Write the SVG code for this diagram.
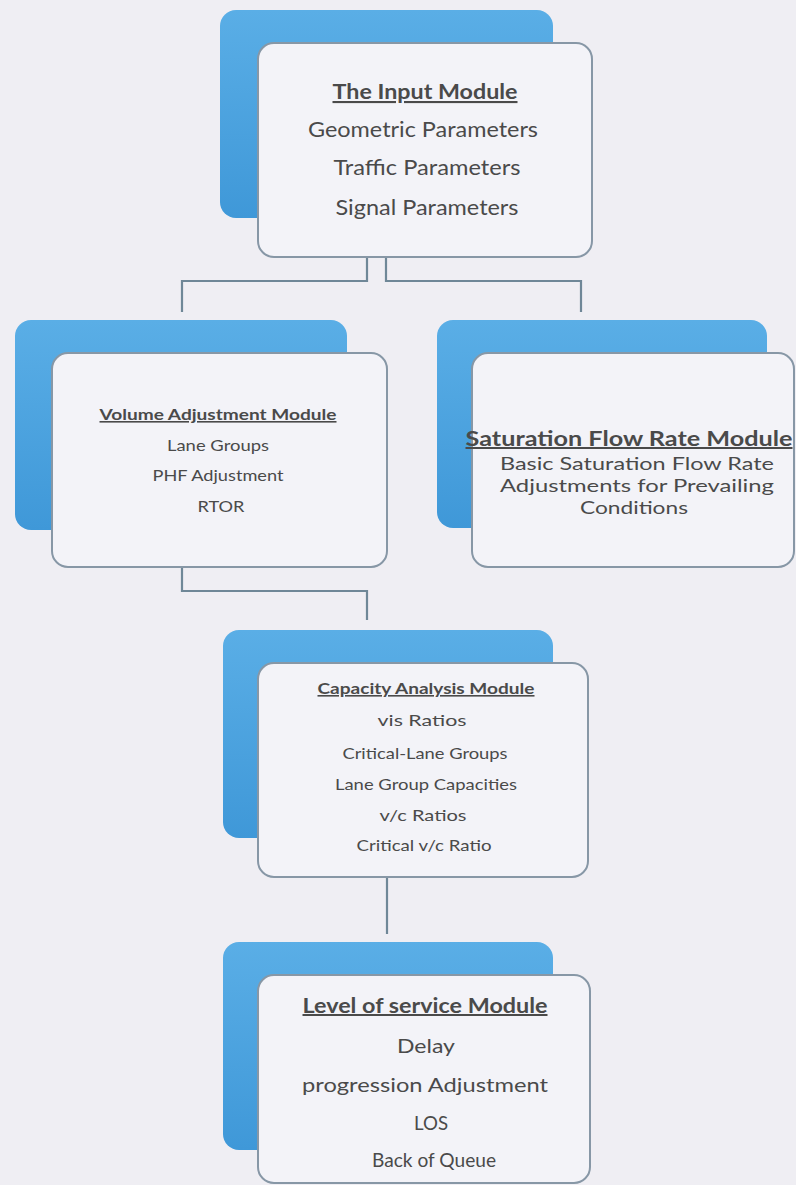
<svg xmlns="http://www.w3.org/2000/svg" width="796" height="1185" viewBox="0 0 796 1185">
<defs>
<linearGradient id="blueGrad" x1="0" y1="0" x2="0" y2="1">
<stop offset="0" stop-color="#5aaee6"/>
<stop offset="1" stop-color="#3f98d8"/>
</linearGradient>
<style>
.back{fill:url(#blueGrad);}
.front{fill:#f3f3f8;stroke:#8797a6;stroke-width:2;}
.conn{fill:none;stroke:#6f8797;stroke-width:2.2;}
text{font-family:Lato,"Open Sans","Liberation Sans",sans-serif;fill:#4a4a4a;text-anchor:middle;}
.ttl{text-decoration:underline;font-weight:bold;}
</style>
</defs>
<rect x="0" y="0" width="796" height="1185" fill="#efeef3"/>

<g id="connectors">
<path class="conn" d="M367,257 V281 H182 V312"/>
<path class="conn" d="M386,257 V281 H581 V312"/>
<path class="conn" d="M182,567 V591 H367 V620"/>
<path class="conn" d="M387,877 V934"/>
</g>

<g id="input-module">
<rect class="back" x="220" y="10" width="333" height="208" rx="16"/>
<rect class="front" x="258" y="43" width="334" height="214" rx="16"/>
<text class="ttl" x="425" y="99" font-size="21" textLength="185" lengthAdjust="spacingAndGlyphs">The Input Module</text>
<text x="423" y="137" font-size="21" textLength="230" lengthAdjust="spacingAndGlyphs">Geometric Parameters</text>
<text x="427" y="175" font-size="21" textLength="187" lengthAdjust="spacingAndGlyphs">Traffic Parameters</text>
<text x="427" y="215" font-size="21" textLength="183" lengthAdjust="spacingAndGlyphs">Signal Parameters</text>
</g>

<g id="volume-module">
<rect class="back" x="15" y="320" width="332" height="210" rx="16"/>
<rect class="front" x="52" y="353" width="335" height="214" rx="16"/>
<text class="ttl" x="218" y="420" font-size="16" textLength="237" lengthAdjust="spacingAndGlyphs">Volume Adjustment Module</text>
<text x="218" y="451" font-size="16" textLength="102" lengthAdjust="spacingAndGlyphs">Lane Groups</text>
<text x="218" y="481" font-size="16" textLength="131" lengthAdjust="spacingAndGlyphs">PHF Adjustment</text>
<text x="221" y="512" font-size="16" textLength="47" lengthAdjust="spacingAndGlyphs">RTOR</text>
</g>

<g id="saturation-module">
<rect class="back" x="437" y="320" width="330" height="208" rx="16"/>
<rect class="front" x="472" y="353" width="322" height="214" rx="16"/>
<text class="ttl" x="629" y="446" font-size="20" textLength="327" lengthAdjust="spacingAndGlyphs">Saturation Flow Rate Module</text>
<text x="637" y="470" font-size="18" textLength="274" lengthAdjust="spacingAndGlyphs">Basic Saturation Flow Rate</text>
<text x="637" y="492" font-size="18" textLength="274" lengthAdjust="spacingAndGlyphs">Adjustments for Prevailing</text>
<text x="634" y="514" font-size="18" textLength="108" lengthAdjust="spacingAndGlyphs">Conditions</text>
</g>

<g id="capacity-module">
<rect class="back" x="223" y="630" width="330" height="208" rx="16"/>
<rect class="front" x="258" y="663" width="330" height="214" rx="16"/>
<text class="ttl" x="426" y="694" font-size="16" textLength="217" lengthAdjust="spacingAndGlyphs">Capacity Analysis Module</text>
<text x="422" y="726" font-size="16" textLength="89" lengthAdjust="spacingAndGlyphs">vis Ratios</text>
<text x="425" y="759" font-size="16" textLength="165" lengthAdjust="spacingAndGlyphs">Critical-Lane Groups</text>
<text x="426" y="790" font-size="16" textLength="182" lengthAdjust="spacingAndGlyphs">Lane Group Capacities</text>
<text x="423" y="821" font-size="16" textLength="87" lengthAdjust="spacingAndGlyphs">v/c Ratios</text>
<text x="424" y="851" font-size="16" textLength="135" lengthAdjust="spacingAndGlyphs">Critical v/c Ratio</text>
</g>

<g id="los-module">
<rect class="back" x="223" y="942" width="330" height="208" rx="16"/>
<rect class="front" x="258" y="975" width="332" height="208" rx="16"/>
<text class="ttl" x="425" y="1013" font-size="20" textLength="245" lengthAdjust="spacingAndGlyphs">Level of service Module</text>
<text x="426" y="1053" font-size="20" textLength="58" lengthAdjust="spacingAndGlyphs">Delay</text>
<text x="425" y="1092" font-size="20" textLength="246" lengthAdjust="spacingAndGlyphs">progression Adjustment</text>
<text x="431" y="1130" font-size="20" textLength="34" lengthAdjust="spacingAndGlyphs">LOS</text>
<text x="434" y="1167" font-size="20" textLength="124" lengthAdjust="spacingAndGlyphs">Back of Queue</text>
</g>
</svg>
